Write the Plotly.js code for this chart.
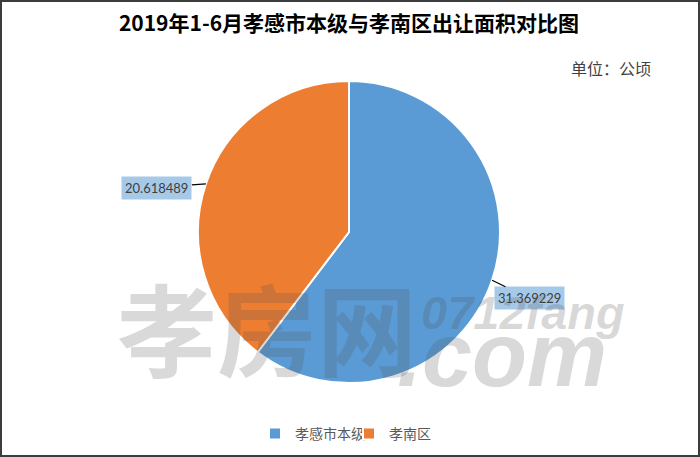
<!DOCTYPE html>
<html>
<head>
<meta charset="utf-8">
<script src="https://cdn.plot.ly/plotly-3.0.1.min.js"></script>
<style>
body{margin:0;padding:0;background:#fff;}
#wrap{position:relative;width:700px;height:457px;}
#frame{position:absolute;left:0;top:0;width:700px;height:457px;box-sizing:border-box;border:2px solid #3c3c3c;pointer-events:none;}
</style>
</head>
<body>
<div id="wrap"><div id="chart" style="width:700px;height:457px;"></div><div id="frame"></div></div>
<script>
const categories = ["孝感市本级", "孝南区"];
const values = [31.369229, 20.618489];
const valueLabels = ["31.369229", "20.618489"];
const colors = ["#5B9BD5", "#ED7D31"];
const titleText = "2019年1-6月孝感市本级与孝南区出让面积对比图";
const unitText = "单位：公顷";

const total = values.reduce((a, b) => a + b, 0);
const offsets = [[37, 18], [-49, 4]];
let cum = 0;
const labelAnns = values.map((v, i) => {
  const mid = (cum + v / 2) / total * 2 * Math.PI;
  cum += v;
  return {
    xref: "paper", yref: "paper",
    x: 0.5 + 0.5 * Math.sin(mid),
    y: 0.5 + 0.5 * Math.cos(mid),
    text: valueLabels[i],
    showarrow: true, arrowhead: 0, arrowwidth: 1.2, arrowcolor: "#000",
    standoff: 0, startstandoff: 0,
    ax: offsets[i][0], ay: offsets[i][1],
    bgcolor: "rgba(157,195,230,0.9)", borderpad: 3,
    font: {family: "Lato, 'Liberation Sans', sans-serif", size: 13, color: "#404040"}
  };
});

const wm = "rgba(80,80,80,0.22)";
const annotations = labelAnns.concat([
  {xref: "paper", yref: "paper", x: 1.368, y: 1.043, xanchor: "center", yanchor: "middle",
   text: unitText, showarrow: false,
   font: {family: "'Noto Sans CJK SC', sans-serif", size: 16, color: "#404040"}},
  {xref: "paper", yref: "paper", x: -0.275, y: 0.192, xanchor: "left", yanchor: "middle",
   text: "<b>孝房网</b>", showarrow: false,
   font: {family: "'Noto Sans CJK SC', sans-serif", size: 100, color: wm}},
  {xref: "paper", yref: "paper", x: 0.732, y: 0.235, xanchor: "left", yanchor: "middle",
   text: "<b><i>0712fang</i></b>", showarrow: false,
   font: {family: "'Liberation Sans', sans-serif", size: 47, color: wm}},
  {xref: "paper", yref: "paper", x: 0.652, y: 0.093, xanchor: "left", yanchor: "middle",
   text: "<b><i>.com</i></b>", showarrow: false,
   font: {family: "'Liberation Sans', sans-serif", size: 90, color: wm}}
]);

const data = [{
  type: "pie",
  labels: categories,
  values: values,
  sort: false,
  direction: "clockwise",
  rotation: 0,
  textinfo: "none",
  hoverinfo: "label+value",
  marker: {colors: colors, line: {color: "#fff", width: 2}},
  domain: {x: [0, 1], y: [0, 1]}
}];

const layout = {
  width: 700, height: 457,
  margin: {l: 198, r: 200, t: 81, b: 74},
  paper_bgcolor: "#fff",
  title: {
    text: "<b>" + titleText + "</b>",
    x: 0.5, xref: "paper", y: 1 - 24 / 457, yref: "container", yanchor: "middle",
    font: {family: "'Noto Sans CJK SC', sans-serif", size: 21, color: "#000"}
  },
  showlegend: true,
  legend: {
    orientation: "h", x: 0.5, xanchor: "center", xref: "paper",
    y: 1 - 434 / 457, yref: "container", yanchor: "middle",
    font: {family: "'Noto Sans CJK SC', sans-serif", size: 14, color: "#595959"},
    itemwidth: 30, tracegroupgap: 0, entrywidth: 49, entrywidthmode: "pixels"
  },
  annotations: annotations
};

Plotly.newPlot("chart", data, layout, {displayModeBar: false, staticPlot: true});
</script>
</body>
</html>
